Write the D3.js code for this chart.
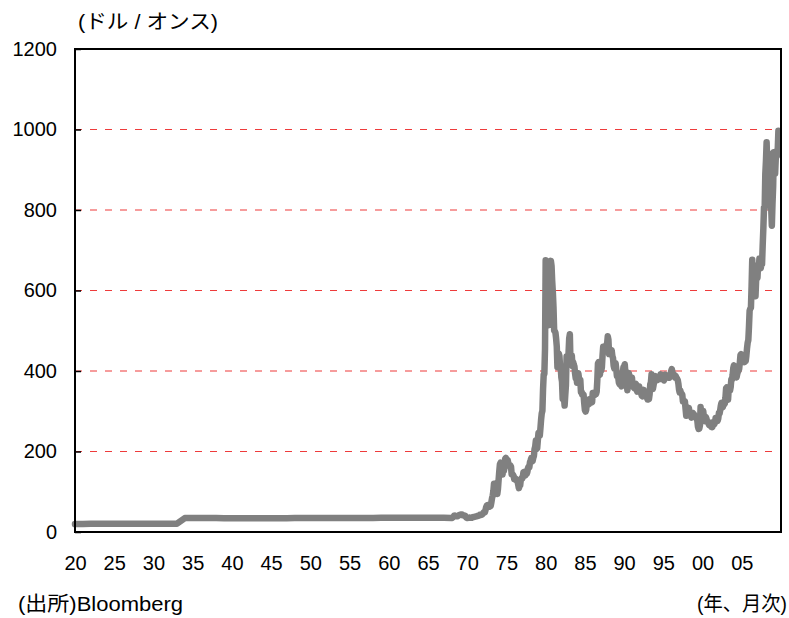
<!DOCTYPE html>
<html>
<head>
<meta charset="utf-8">
<script src="https://cdn.jsdelivr.net/npm/d3@7/dist/d3.min.js"></script>
<style>
  body { margin: 0; background: #fff; }
  text { font-family: "Liberation Sans", Arial, "Noto Sans CJK JP", sans-serif; fill: #000; }
</style>
</head>
<body>
<svg id="chart" width="789" height="618"></svg>
<script>
// gold price, USD / oz
// yearly values 1920 - 1967 (flat fixed-price era)
var annualStart = 1920;
var annualPrices = [
  19.6, 20.0, 20.67, 20.67, 20.67, 20.67, 20.67, 20.67, 20.67, 20.67,   // 1920s
  20.67, 20.67, 20.67, 20.67, 34.7, 34.8, 34.9, 34.9, 34.9, 34.4,       // 1930s
  33.9, 33.9, 33.9, 33.9, 33.9, 34.0, 34.3, 34.4, 34.5, 34.5,           // 1940s
  34.6, 34.7, 34.6, 34.8, 34.9, 35.0, 34.9, 35.0, 35.0, 35.1,           // 1950s
  35.2, 35.3, 35.2, 35.1, 35.1, 35.1, 35.1, 35.2                        // 1960s
];

// monthly averages from 1968 on
var monthly1968 = [
  35.0, 35.0, 36.5, 37.8, 40.5, 41.0, 39.5, 39.2, 39.4, 39.3, 40.0, 41.1,
  42.3, 42.6, 43.2, 43.3, 43.5, 41.4, 41.8, 41.0, 40.9, 40.4, 37.4, 35.2,
  34.9, 35.0, 35.1, 35.6, 35.9, 35.4, 35.3, 35.4, 36.2, 37.5, 37.4, 37.4,
  37.9, 38.7, 38.9, 39.0, 40.5, 40.1, 40.9, 42.7, 42.0, 42.5, 42.9, 43.5,
  45.8, 48.3, 48.3, 49.0, 54.6, 62.1, 65.7, 67.0, 65.5, 64.9, 62.9, 63.9,
  65.1, 74.2, 84.4, 90.5, 102.0, 120.1, 120.2, 106.8, 103.0, 100.1, 94.5, 106.7,
  129.2, 150.2, 168.4, 172.2, 163.5, 154.1, 143.0, 154.6, 151.8, 158.8, 181.7, 183.9,
  176.3, 179.6, 178.2, 169.9, 167.2, 164.2, 165.2, 162.1, 143.2, 142.7, 142.4, 139.3,
  131.0, 130.4, 132.6, 128.2, 128.1, 125.4, 117.7, 109.0, 114.0, 116.0, 130.6, 133.7,
  132.3, 136.2, 148.5, 149.2, 146.6, 140.8, 143.4, 144.9, 149.0, 158.9, 162.7, 160.5,
  173.2, 178.2, 183.7, 175.3, 176.3, 183.8, 188.7, 206.1, 212.4, 227.3, 206.1, 207.8,
  227.3, 245.7, 242.1, 239.2, 257.6, 279.1, 294.7, 300.8, 355.1, 391.7, 392.5, 455.1
];
var monthly1980 = [
  675.3, 665.3, 553.6, 517.4, 513.8, 600.7, 644.3, 627.2, 673.6, 661.1, 623.5, 594.9,
  557.4, 500.5, 498.7, 494.9, 480.2, 460.8, 409.3, 410.2, 443.6, 437.7, 413.4, 410.1,
  384.2, 374.1, 330.6, 350.6, 333.5, 314.0, 340.1, 364.4, 436.1, 422.2, 414.6, 445.2,
  481.5, 491.4, 419.5, 432.4, 438.5, 412.6, 422.4, 416.2, 411.1, 393.5, 381.7, 388.0,
  370.9, 385.9, 394.3, 381.6, 377.7, 377.7, 347.7, 348.3, 341.1, 340.2, 341.2, 319.9,
  303.0, 299.1, 304.0, 324.4, 316.0, 316.5, 317.4, 329.6, 324.0, 325.1, 325.4, 322.4,
  345.4, 338.9, 345.7, 340.4, 342.5, 342.5, 348.6, 376.6, 418.9, 422.2, 396.7, 390.6,
  408.3, 401.0, 408.9, 438.6, 460.1, 450.0, 450.5, 460.5, 460.4, 465.6, 467.6, 486.3,
  477.8, 442.0, 443.6, 451.6, 451.7, 451.4, 437.4, 432.5, 413.1, 406.3, 420.2, 418.9,
  404.0, 387.8, 390.2, 384.3, 371.0, 367.6, 374.3, 365.3, 361.8, 366.9, 394.3, 409.6
];
var monthly1990 = [
  410.1, 416.8, 393.1, 374.3, 369.0, 352.4, 362.5, 395.0, 389.3, 380.7, 381.1, 378.2,
  383.6, 363.8, 363.3, 358.4, 356.8, 366.7, 367.7, 356.5, 348.7, 358.7, 359.6, 361.8,
  354.5, 353.9, 344.3, 338.6, 337.3, 340.8, 353.1, 342.9, 345.4, 344.4, 335.0, 334.7,
  329.0, 329.3, 330.1, 342.2, 367.2, 371.9, 392.0, 379.8, 355.3, 364.2, 373.8, 383.3,
  387.0, 381.6, 384.1, 377.3, 381.4, 385.6, 385.5, 380.4, 391.6, 389.8, 384.4, 379.3,
  378.5, 376.6, 382.2, 391.0, 385.2, 387.6, 386.2, 383.7, 383.1, 383.0, 386.0, 387.4,
  400.0, 404.8, 396.2, 392.9, 392.0, 385.3, 383.5, 387.5, 383.1, 381.1, 377.9, 369.0,
  354.1, 346.6, 351.8, 344.5, 343.8, 340.8, 324.0, 323.8, 322.9, 324.6, 306.0, 288.7,
  289.1, 297.5, 295.9, 308.4, 299.1, 292.3, 292.9, 284.1, 289.0, 295.9, 294.1, 291.6,
  287.1, 287.3, 285.9, 282.6, 276.4, 261.3, 256.1, 256.7, 264.7, 310.7, 293.2, 283.1
];
var monthly2000 = [
  284.6, 300.9, 286.4, 279.7, 275.2, 285.7, 281.6, 274.5, 273.7, 270.0, 266.0, 271.5,
  265.5, 261.9, 263.0, 260.5, 272.4, 270.2, 267.5, 272.4, 283.4, 283.1, 276.2, 275.9,
  281.7, 295.5, 294.0, 302.7, 314.5, 321.2, 313.3, 310.3, 319.2, 316.6, 319.1, 333.0,
  356.9, 359.0, 340.6, 328.2, 355.7, 356.4, 351.0, 359.8, 378.9, 378.9, 389.9, 407.6,
  414.0, 405.3, 406.7, 403.0, 383.8, 392.4, 398.1, 400.5, 405.3, 420.5, 439.4, 441.8,
  424.0, 423.4, 434.2, 429.2, 421.9, 430.7, 424.5, 437.9, 456.0, 469.9, 476.7, 509.8,
  549.9, 555.0, 557.1, 610.6, 676.5, 596.2, 633.7, 632.6, 598.2, 585.8, 627.8, 629.8,
  631.2, 664.8, 654.9, 679.4, 666.9, 655.5, 665.3, 665.4, 712.7, 754.6, 806.3, 803.2,
  889.6, 922.3, 968.4, 909.7, 888.7, 889.5, 939.8, 839.0, 829.9, 806.6, 760.9, 816.1,
  858.7, 943.2, 924.3, 890.2, 928.6, 945.7, 934.2, 949.4, 996.6
];

var xTicks = [1920, 1925, 1930, 1935, 1940, 1945, 1950, 1955, 1960, 1965, 1970, 1975, 1980, 1985, 1990, 1995, 2000, 2005];
var yTicks = [0, 200, 400, 600, 800, 1000, 1200];
var gridVals = [200, 400, 600, 800, 1000];

// build one series of {t, v}
var series = [];
annualPrices.forEach(function (v, i) { series.push({ t: annualStart + i, v: v }); });
[[1968, monthly1968], [1980, monthly1980], [1990, monthly1990], [2000, monthly2000]].forEach(function (blk) {
  blk[1].forEach(function (v, i) { series.push({ t: blk[0] + i / 12, v: v }); });
});

var svg = d3.select('#chart');
// plot box (window.top is reserved, so use other names)
var plotL = 75, plotR = 781, plotT = 49, plotB = 532;

var x = d3.scaleLinear().domain([1920, 2010]).range([plotL, plotR]);
var y = d3.scaleLinear().domain([0, 1200]).range([plotB, plotT]);

// dashed grid
svg.append('g').selectAll('line').data(gridVals).enter().append('line')
  .attr('x1', plotL).attr('x2', plotR)
  .attr('y1', function (d) { return y(d); }).attr('y2', function (d) { return y(d); })
  .attr('stroke', '#ee3b3b').attr('stroke-width', 1.2)
  .attr('stroke-dasharray', '7,8');

// price line
var line = d3.line().x(function (d) { return x(d.t); }).y(function (d) { return y(d.v); });
svg.append('path').datum(series)
  .attr('d', line)
  .attr('fill', 'none')
  .attr('stroke', '#808080')
  .attr('stroke-width', 6.5)
  .attr('stroke-linejoin', 'round')
  .attr('stroke-linecap', 'round');

// y axis, ticks pointing inside
var yAxis = svg.append('g').attr('transform', 'translate(' + plotL + ',0)')
  .call(d3.axisLeft(y).tickValues(yTicks).tickSize(-6).tickPadding(18).tickFormat(d3.format('d')));
yAxis.select('.domain').remove();
yAxis.selectAll('line').attr('stroke', '#000').attr('stroke-width', 1.5);
yAxis.selectAll('text').attr('font-size', 20).attr('fill', '#000');

// x axis labels only
var xAxis = svg.append('g').attr('transform', 'translate(0,' + plotB + ')')
  .call(d3.axisBottom(x).tickValues(xTicks).tickSize(0).tickPadding(24)
    .tickFormat(function (d) { return String(d % 100).padStart(2, '0'); }));
xAxis.select('.domain').remove();
xAxis.selectAll('text').attr('font-size', 20).attr('fill', '#000');

// frame
svg.append('rect')
  .attr('x', plotL).attr('y', plotT)
  .attr('width', plotR - plotL).attr('height', plotB - plotT)
  .attr('fill', 'none').attr('stroke', '#000').attr('stroke-width', 2);

// labels
svg.append('text').attr('x', 78).attr('y', 29).attr('font-size', 20)
  .attr('textLength', 140).attr('lengthAdjust', 'spacingAndGlyphs').text('(ドル / オンス)');
svg.append('text').attr('x', 18).attr('y', 611).attr('font-size', 20)
  .attr('textLength', 165).attr('lengthAdjust', 'spacingAndGlyphs').text('(出所)Bloomberg');
svg.append('text').attr('x', 697).attr('y', 611).attr('font-size', 20)
  .attr('textLength', 90).attr('lengthAdjust', 'spacingAndGlyphs').text('(年、月次)');
</script>
</body>
</html>
